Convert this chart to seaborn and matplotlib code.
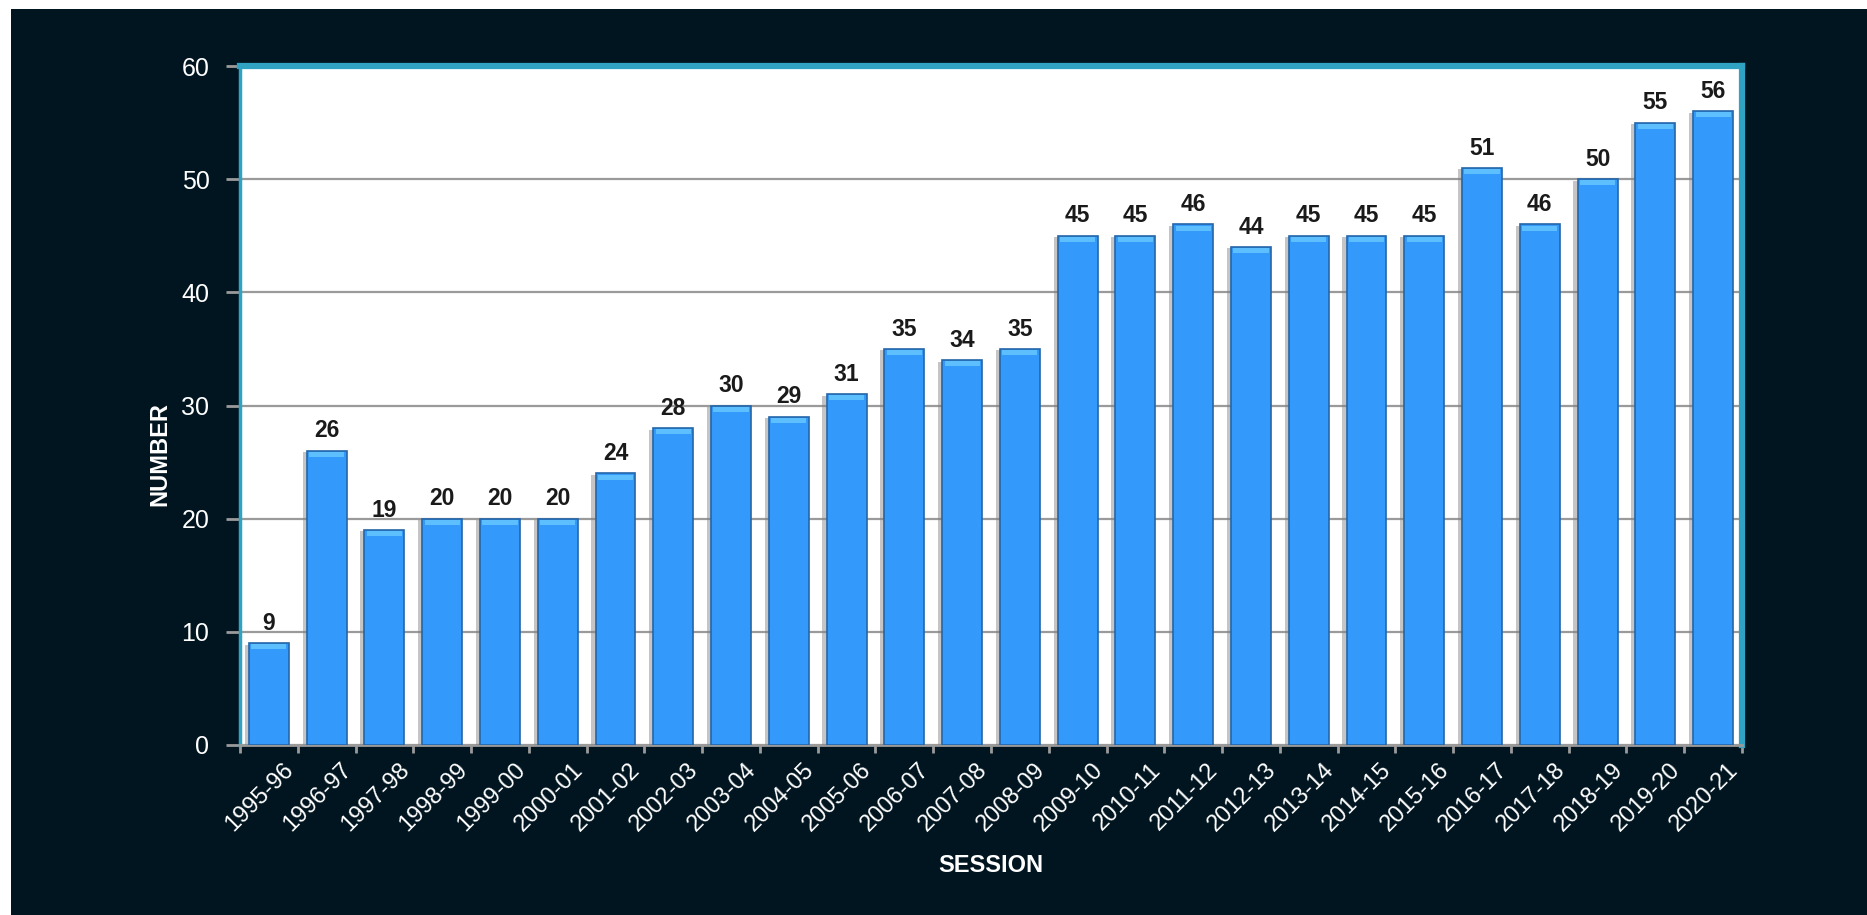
import matplotlib
matplotlib.use("Agg")
import matplotlib.pyplot as plt
import matplotlib.patheffects as pe
import matplotlib.transforms as mtransforms
from matplotlib.patches import Rectangle
import numpy as np
import seaborn as sns


SESSIONS = [
    "1995-96", "1996-97", "1997-98", "1998-99", "1999-00", "2000-01",
    "2001-02", "2002-03", "2003-04", "2004-05", "2005-06", "2006-07",
    "2007-08", "2008-09", "2009-10", "2010-11", "2011-12", "2012-13",
    "2013-14", "2014-15", "2015-16", "2016-17", "2017-18", "2018-19",
    "2019-20", "2020-21",
]
NUMBERS = [
    9, 26, 19, 20, 20, 20, 24, 28, 30, 29, 31, 35, 34, 35,
    45, 45, 46, 44, 45, 45, 45, 51, 46, 50, 55, 56,
]
Y_TICKS = [0, 10, 20, 30, 40, 50, 60]

BG = "#011520"
TEAL = "#31a3c2"
BAR = "#3399fb"
BAR_EDGE = "#2466a8"
GRID = "#9a9a9a"

sns.set_theme(style="white")
plt.rcParams["font.family"] = ["Liberation Sans", "DejaVu Sans"]

fig = plt.figure(figsize=(18.67, 9.15), dpi=100, facecolor="white")
fig.patches.append(Rectangle((11 / 1867, 0), 1, 1 - 9 / 915,
                             transform=fig.transFigure, facecolor=BG,
                             edgecolor="none", zorder=-10))

ax = fig.add_axes([240 / 1867, 1 - 745 / 915, 1502 / 1867, 679 / 915])
ax.set_facecolor("white")

sns.barplot(x=SESSIONS, y=NUMBERS, color=BAR, saturation=1, width=0.69,
            edgecolor=BAR_EDGE, linewidth=1.2, ax=ax, zorder=3)

# soft highlight on the top of each bar + faint shadow, like the original
for patch in ax.patches:
    patch.set_path_effects([
        pe.SimplePatchShadow(offset=(-3, -1), shadow_rgbFace="#808080", alpha=0.45),
        pe.Normal(),
    ])
    x0, w, h = patch.get_x(), patch.get_width(), patch.get_height()
    ax.add_patch(Rectangle((x0 + w * 0.06, h - 0.55), w * 0.88, 0.45,
                           facecolor="#62c4ff", edgecolor="none", alpha=0.9,
                           zorder=4))

ax.bar_label(ax.containers[0], labels=[str(v) for v in NUMBERS], padding=6,
             fontsize=16.5, fontweight="bold", color="#1a1a1a")

ax.set_ylim(0, 60)
ax.set_xlim(-0.5, len(SESSIONS) - 0.5)
ax.set_yticks(Y_TICKS)
ax.yaxis.grid(True, color=GRID, linewidth=1.6, zorder=0)
ax.set_axisbelow(True)

ax.tick_params(axis="y", colors=GRID, labelcolor="white", labelsize=18,
               length=10, width=2, pad=12, left=True)
ax.set_xticks(np.arange(len(SESSIONS)))
ax.set_xticks(np.arange(len(SESSIONS) + 1) - 0.5, minor=True)
ax.tick_params(axis="x", which="major", length=0, pad=10, labelcolor="white",
               labelsize=17)
ax.tick_params(axis="x", which="minor", length=6, width=2, color=GRID,
               bottom=True)

offset = mtransforms.ScaledTranslation(14 / 100, 0, fig.dpi_scale_trans)
for lab in ax.get_xticklabels():
    lab.set_rotation(45)
    lab.set_ha("right")
    lab.set_va("top")
    lab.set_rotation_mode("anchor")
    lab.set_transform(lab.get_transform() + offset)

for side in ["top", "right"]:
    ax.spines[side].set_color(TEAL)
    ax.spines[side].set_linewidth(4.5)
ax.spines["left"].set_color(TEAL)
ax.spines["left"].set_linewidth(2.5)
ax.spines["bottom"].set_color(GRID)
ax.spines["bottom"].set_linewidth(2)

ax.set_xlabel("SESSION", color="white", fontsize=17, fontweight="bold", va="center")
ax.xaxis.set_label_coords(0.5, -120 / 679)
ax.set_ylabel("NUMBER", color="white", fontsize=17, fontweight="bold", va="center")
ax.yaxis.set_label_coords(-80 / 1502, 291 / 679)

fig.savefig("out.png", dpi=100, facecolor=fig.get_facecolor())
